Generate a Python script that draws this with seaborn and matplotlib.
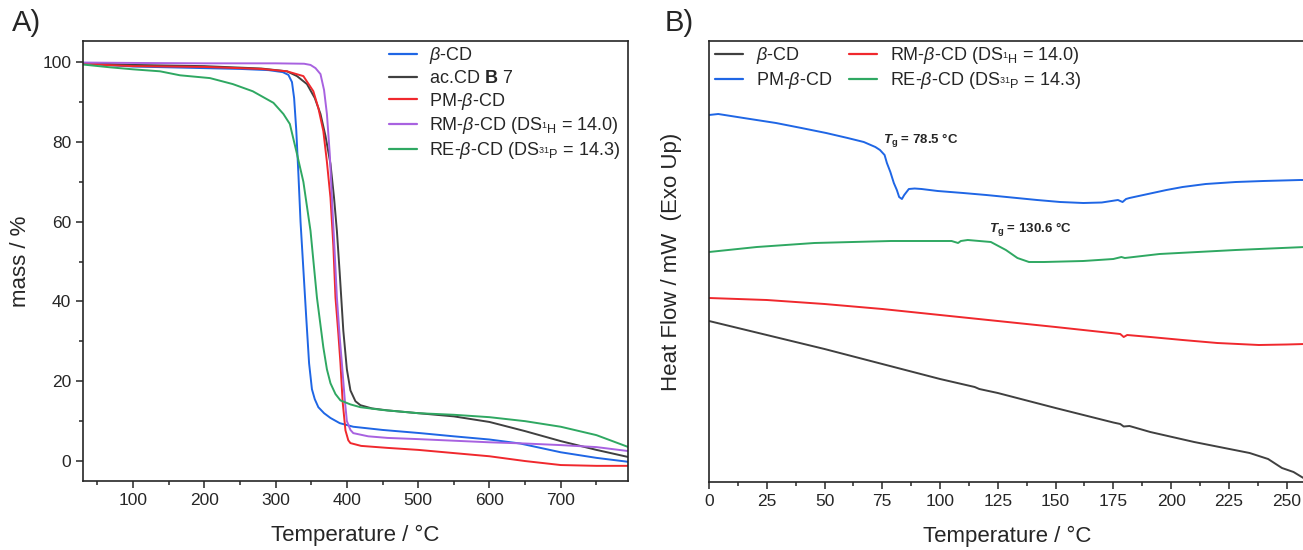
import numpy as np
import pandas as pd
import matplotlib
matplotlib.use("Agg")
import matplotlib.pyplot as plt
from matplotlib.lines import Line2D
from matplotlib.ticker import MultipleLocator
import seaborn as sns

# %% data -------------------------------------------------------------------
# A) TGA: temperature (°C) and residual mass (%)
tga_bcd_T = [30, 60, 100, 150, 200, 250, 290, 310, 318, 323, 326, 329, 332, 335, 339, 343, 347,
             351, 355, 360, 368, 377, 390, 409, 450, 503, 550, 600, 643, 700, 750, 795]
tga_bcd_m = [99.8, 99.3, 98.9, 98.7, 98.5, 98.3, 98.0, 97.5, 96.8, 95.0, 91.0, 83.0, 72.0, 60.0, 48.0,
             36.0, 24.5, 18.0, 15.5, 13.5, 12.0, 10.8, 9.5, 8.6, 7.8, 7.0, 6.2, 5.4, 4.4, 2.2, 0.8, -0.2]

tga_acb7_T = [30, 100, 200, 280, 316, 330, 344, 355, 363, 370, 377, 382, 386, 390, 395, 400, 405,
              412, 419, 435, 457, 500, 550, 600, 650, 700, 750, 795]
tga_acb7_m = [99.8, 99.3, 99.0, 98.4, 97.7, 96.5, 94.5, 91.0, 87.0, 81.5, 74.5, 66.0, 57.7, 47.0,
              32.7, 23.0, 17.7, 15.0, 14.0, 13.2, 12.7, 12.0, 11.2, 9.8, 7.5, 5.0, 2.8, 1.0]

tga_pm_T = [30, 60, 100, 200, 280, 316, 339, 353, 360, 367, 372, 377, 381, 384, 388, 391, 394, 398,
            402, 405, 420, 457, 500, 550, 600, 650, 700, 750, 795]
tga_pm_m = [99.8, 99.3, 99.0, 98.8, 98.3, 97.7, 96.5, 92.7, 88.5, 82.7, 75.0, 66.0, 54.0, 41.0, 32.0,
            24.5, 15.0, 7.7, 5.2, 4.5, 3.8, 3.3, 2.8, 2.0, 1.2, 0.0, -1.0, -1.2, -1.2]

tga_rm_T = [30, 100, 200, 300, 340, 349, 356, 363, 368, 372, 376, 379, 383, 386, 390, 393, 397, 400,
            405, 409, 430, 457, 500, 600, 650, 700, 750, 795]
tga_rm_m = [99.9, 99.8, 99.7, 99.7, 99.6, 99.3, 98.5, 97.0, 93.0, 87.0, 77.0, 66.0, 52.0, 41.0, 31.0,
            24.5, 15.5, 10.0, 7.8, 7.0, 6.2, 5.8, 5.5, 4.7, 4.4, 4.0, 3.5, 2.5]

tga_re_T = [30, 68, 100, 138, 166, 208, 240, 268, 297, 311, 320, 330, 339, 349, 358, 367, 372, 377,
            384, 391, 405, 419, 450, 500, 550, 600, 650, 700, 750, 795]
tga_re_m = [99.4, 98.7, 98.2, 97.7, 96.7, 96.0, 94.5, 92.7, 89.8, 87.0, 84.5, 77.0, 70.0, 57.7, 41.0,
            28.5, 23.0, 19.5, 16.8, 15.2, 14.2, 13.5, 12.8, 12.0, 11.6, 11.0, 10.0, 8.6, 6.5, 3.5]

# B) DSC: temperature (°C) and heat flow (arb. units, exo up)
dsc_bcd_T = [0, 25, 50, 75, 100, 115, 117, 125, 150, 175, 178, 179.5, 182, 191, 210, 234, 242, 248, 253, 258]
dsc_bcd_h = [1.61, 1.47, 1.33, 1.18, 1.03, 0.95, 0.93, 0.89, 0.74, 0.595, 0.58, 0.555, 0.56, 0.50,
             0.40, 0.29, 0.23, 0.14, 0.10, 0.03]

dsc_pm_T = [0, 4, 15, 29, 40, 50.7, 60, 67, 72, 74, 76, 77, 78.5, 80, 81.3, 82.3, 83.5, 84.5, 86.5, 89,
            92, 99, 110, 120, 131, 142, 152, 162, 170, 177, 179, 180.5, 182, 190, 198, 205, 215, 228,
            240, 256, 258]
dsc_pm_h = [3.67, 3.68, 3.64, 3.59, 3.54, 3.49, 3.44, 3.40, 3.35, 3.32, 3.27, 3.19, 3.10, 2.99, 2.92,
            2.85, 2.83, 2.87, 2.93, 2.935, 2.93, 2.91, 2.89, 2.87, 2.845, 2.82, 2.80, 2.79, 2.795, 2.82,
            2.80, 2.83, 2.84, 2.88, 2.92, 2.95, 2.98, 3.00, 3.01, 3.02, 3.02]

dsc_rm_T = [0, 25, 50, 75, 100, 125, 150, 170, 178, 179.5, 181, 191, 205, 220, 238, 250, 258]
dsc_rm_h = [1.84, 1.82, 1.78, 1.73, 1.67, 1.61, 1.55, 1.50, 1.48, 1.45, 1.47, 1.45, 1.42, 1.39, 1.37,
            1.375, 1.38]

dsc_re_T = [0, 20.7, 45.6, 78.7, 105, 107.8, 109, 112, 122, 128.5, 133.5, 138.5, 145, 162, 175, 178.5,
            180, 195, 228, 258]
dsc_re_h = [2.30, 2.35, 2.39, 2.41, 2.41, 2.39, 2.41, 2.42, 2.40, 2.32, 2.24, 2.20, 2.20, 2.21, 2.23,
            2.25, 2.24, 2.28, 2.32, 2.35]

tga_labels = [r"$\beta$-CD", r"ac.CD $\mathbf{B}$ 7", r"PM-$\beta$-CD",
              r"RM-$\beta$-CD (DS$_{{}^{1}\mathrm{H}}$ = 14.0)",
              r"RE-$\beta$-CD (DS$_{{}^{31}\mathrm{P}}$ = 14.3)"]
dsc_labels = [r"$\beta$-CD", r"PM-$\beta$-CD",
              r"RM-$\beta$-CD (DS$_{{}^{1}\mathrm{H}}$ = 14.0)",
              r"RE-$\beta$-CD (DS$_{{}^{31}\mathrm{P}}$ = 14.3)"]

BLUE, DARK, RED, PURPLE, GREEN = "#1f66e5", "#404040", "#f0282d", "#a862e0", "#2fa862"

# %% style ------------------------------------------------------------------
sns.set_style("ticks")
plt.rcParams["font.family"] = ["Liberation Sans", "DejaVu Sans"]
plt.rcParams["mathtext.fontset"] = "custom"
plt.rcParams["mathtext.rm"] = "Liberation Sans"
plt.rcParams["mathtext.it"] = "Liberation Sans:italic"
plt.rcParams["mathtext.bf"] = "Liberation Sans:bold"
plt.rcParams["mathtext.bfit"] = "Liberation Sans:italic:bold"


def long_frame(series, labels, xname, yname):
    parts = []
    for (x, y), lab in zip(series, labels):
        parts.append(pd.DataFrame({xname: x, yname: y, "sample": lab}))
    return pd.concat(parts, ignore_index=True)


fig = plt.figure(figsize=(13.03, 5.5), dpi=100)
W, H = 1303, 550
ax1 = fig.add_axes([83 / W, 69 / H, 545 / W, 440 / H])
ax2 = fig.add_axes([709 / W, 68 / H, 600 / W, 441 / H])

# %% A) TGA -----------------------------------------------------------------
tga = long_frame([(tga_bcd_T, tga_bcd_m), (tga_acb7_T, tga_acb7_m), (tga_pm_T, tga_pm_m),
                  (tga_rm_T, tga_rm_m), (tga_re_T, tga_re_m)],
                 tga_labels, "T", "mass")
tga_pal = dict(zip(tga_labels, [BLUE, DARK, RED, PURPLE, GREEN]))
sns.lineplot(data=tga, x="T", y="mass", hue="sample", palette=tga_pal, sort=False,
             estimator=None, linewidth=1.4, legend=False, ax=ax1)
ax1.set_xlim(29.9, 794.3)
ax1.set_ylim(-5.0, 105.3)
ax1.xaxis.set_major_locator(MultipleLocator(100))
ax1.xaxis.set_minor_locator(MultipleLocator(50))
ax1.yaxis.set_major_locator(MultipleLocator(20))
ax1.yaxis.set_minor_locator(MultipleLocator(10))
ax1.set_xlabel("Temperature / °C", fontsize=16)
ax1.set_ylabel("mass / %", fontsize=16)
ax1.yaxis.set_label_coords(-0.095, 0.5)
ax1.xaxis.set_label_coords(0.5, -0.1)

h1 = [Line2D([], [], color=c, lw=1.6) for c in [BLUE, DARK, RED, PURPLE, GREEN]]
ax1.legend(h1, tga_labels, loc="upper left", bbox_to_anchor=(0.561, 0.99), frameon=False,
           fontsize=13, handlelength=1.55, handletextpad=0.7, labelspacing=0.2,
           borderpad=0, borderaxespad=0)

# %% B) DSC -----------------------------------------------------------------
dsc = long_frame([(dsc_bcd_T, dsc_bcd_h), (dsc_pm_T, dsc_pm_h), (dsc_rm_T, dsc_rm_h),
                  (dsc_re_T, dsc_re_h)],
                 dsc_labels, "T", "hf")
dsc_pal = dict(zip(dsc_labels, [DARK, BLUE, RED, GREEN]))
sns.lineplot(data=dsc, x="T", y="hf", hue="sample", palette=dsc_pal, sort=False,
             estimator=None, linewidth=1.4, legend=False, ax=ax2)
ax2.set_xlim(0, 259.7)
ax2.set_ylim(0, 4.41)
ax2.xaxis.set_major_locator(MultipleLocator(25))
ax2.xaxis.set_minor_locator(MultipleLocator(12.5))
ax2.set_yticks([])
ax2.spines["right"].set_visible(False)
ax2.set_xlabel("Temperature / °C", fontsize=16)
ax2.set_ylabel("Heat Flow / mW  (Exo Up)", fontsize=16)
ax2.yaxis.set_label_coords(-0.045, 0.5)
ax2.xaxis.set_label_coords(0.497, -0.1)

ax2.text(75.3, 3.41, r"$\mathbfit{T}_{\mathbf{g}}$ = 78.5 °C", fontsize=9.5, fontweight="bold",
         va="center", ha="left")
ax2.text(121.2, 2.52, r"$\mathbfit{T}_{\mathbf{g}}$ = 130.6 °C", fontsize=9.5, fontweight="bold",
         va="center", ha="left")

h2 = [Line2D([], [], color=c, lw=1.6) for c in [DARK, BLUE, RED, GREEN]]
ax2.legend(h2, dsc_labels, loc="upper left", bbox_to_anchor=(0.01, 0.99), frameon=False,
           fontsize=13, ncol=2, handlelength=1.55, handletextpad=0.7, labelspacing=0.2,
           columnspacing=0.95, borderpad=0, borderaxespad=0)

for ax in (ax1, ax2):
    for s in ax.spines.values():
        s.set_linewidth(1.2)
    ax.tick_params(which="major", direction="out", length=5, width=1.1, labelsize=12.5)
    ax.tick_params(which="minor", direction="out", length=3, width=1.1)
    ax.tick_params(top=False, right=False, which="both")

fig.text(12 / W, 1 - 9 / H, "A)", fontsize=21, va="top", ha="left")
fig.text(665 / W, 1 - 9 / H, "B)", fontsize=21, va="top", ha="left")

fig.savefig("out.png", dpi=100)
